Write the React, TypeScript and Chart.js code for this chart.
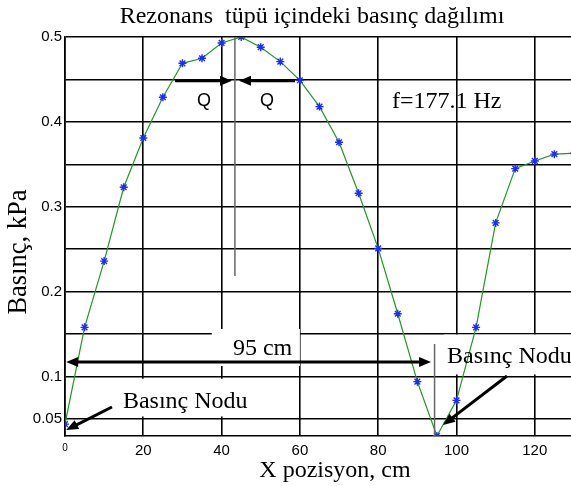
import React, { useEffect, useRef } from "react";
import { Chart, registerables } from "chart.js";

Chart.register(...registerables);

// ---- data ----
const xPositions = [0, 5, 10, 15, 20, 25, 30, 35, 40, 45, 50, 55, 60, 65, 70, 75, 80, 85, 90, 95, 100, 105, 110, 115, 120, 125, 130];
const pressures = [0.044, 0.158, 0.236, 0.323, 0.381, 0.429, 0.469, 0.475, 0.493, 0.5, 0.488, 0.471, 0.449, 0.418, 0.376, 0.316, 0.251, 0.174, 0.094, 0.03, 0.072, 0.158, 0.281, 0.345, 0.354, 0.362, 0.363];
const xTickValues = [0, 20, 40, 60, 80, 100, 120];
const yGridValues = [0.05, 0.1, 0.15, 0.2, 0.25, 0.3, 0.35, 0.4, 0.45, 0.5];
const yLabelledValues = [0.05, 0.1, 0.2, 0.3, 0.4, 0.5];

const titleText = "Rezonans  tüpü içindeki basınç dağılımı";
const xTitle = "X pozisyon, cm";
const yTitle = "Basınç, kPa";
const freqText = "f=177.1 Hz";
const lengthText = "95 cm";
const nodeText = "Basınç Nodu";
const flowText = "Q";

const SERIF = "'Liberation Serif', 'Times New Roman', serif";
const SANS = "'Liberation Sans', Arial, sans-serif";

function drawArrow(ctx: CanvasRenderingContext2D, x1: number, y1: number, x2: number, y2: number, both = false) {
  const head = 12;
  const half = 5;
  const ang = Math.atan2(y2 - y1, x2 - x1);
  const cos = Math.cos(ang), sin = Math.sin(ang);
  ctx.save();
  ctx.strokeStyle = "#000";
  ctx.fillStyle = "#000";
  ctx.lineWidth = 3;
  ctx.beginPath();
  const sx = both ? x1 + cos * (head - 2) : x1;
  const sy = both ? y1 + sin * (head - 2) : y1;
  ctx.moveTo(sx, sy);
  ctx.lineTo(x2 - cos * (head - 2), y2 - sin * (head - 2));
  ctx.stroke();
  const tri = (tx: number, ty: number, c: number, s: number) => {
    ctx.beginPath();
    ctx.moveTo(tx, ty);
    ctx.lineTo(tx - c * head - s * half, ty - s * head + c * half);
    ctx.lineTo(tx - c * head + s * half, ty - s * head - c * half);
    ctx.closePath();
    ctx.fill();
  };
  tri(x2, y2, cos, sin);
  if (both) tri(x1, y1, -cos, -sin);
  ctx.restore();
}

const annotationPlugin = {
  id: "annotations",
  beforeDatasetsDraw(chart: any) {
    const { ctx, scales, chartArea } = chart;
    const X = (v: number) => scales.x.getPixelForValue(v);
    const Y = (v: number) => scales.y.getPixelForValue(v);
    ctx.save();
    ctx.beginPath();
    ctx.rect(chartArea.left + 1, chartArea.top, chartArea.right - chartArea.left, chartArea.bottom - chartArea.top);
    ctx.clip();
    ctx.fillStyle = "#fff";
    // white boxes behind labels
    ctx.fillRect(X(37.5), Y(0.156), X(60.0) - X(37.5), Y(0.1125) - Y(0.156));
    ctx.fillRect(X(96.8), Y(0.1495), X(129.25) - X(96.8), Y(0.1025) - Y(0.1495));
    ctx.fillRect(X(13.5), Y(0.0975), X(48.5) - X(13.5), Y(0.053) - Y(0.0975));
    ctx.restore();
  },
  afterDraw(chart: any) {
    const { ctx, scales } = chart;
    const X = (v: number) => scales.x.getPixelForValue(v);
    const Y = (v: number) => scales.y.getPixelForValue(v);
    ctx.save();
    // gray vertical lines
    ctx.strokeStyle = "#666";
    ctx.lineWidth = 1.5;
    ctx.beginPath();
    ctx.moveTo(X(43.4), Y(0.5));
    ctx.lineTo(X(43.4), Y(0.2185));
    ctx.moveTo(X(94.4), Y(0.1384));
    ctx.lineTo(X(94.4), Y(0.03));
    ctx.stroke();

    // Q arrows
    drawArrow(ctx, X(28.1), Y(0.4485), X(42.65), Y(0.4485));
    drawArrow(ctx, X(58.75), Y(0.4485), X(44.45), Y(0.4485));
    // 95 cm double arrow
    drawArrow(ctx, X(0.3), Y(0.1172), X(93.5), Y(0.1172), true);
    // node arrows
    drawArrow(ctx, X(112.9), Y(0.1007), X(96.55), Y(0.043));
    drawArrow(ctx, X(12.0), Y(0.0642), X(0.3), Y(0.037));

    ctx.fillStyle = "#000";
    ctx.textBaseline = "alphabetic";
    ctx.font = `18px ${SANS}`;
    ctx.textAlign = "center";
    ctx.fillText(flowText, X(35.5), Y(0.4185));
    ctx.fillText(flowText, X(51.6), Y(0.4185));

    ctx.font = `24px ${SERIF}`;
    ctx.textAlign = "left";
    ctx.fillText(freqText, X(83.5), Y(0.4164));
    ctx.fillText(lengthText, X(42.9), Y(0.1254));
    ctx.fillText(nodeText, X(97.6), Y(0.116));
    ctx.fillText(nodeText, X(14.8), Y(0.063));

    // title and axis titles
    ctx.textAlign = "center";
    ctx.fillText(titleText, 312, 23);
    ctx.fillText(xTitle, 335, 477);
    ctx.save();
    ctx.font = `26.5px ${SERIF}`;
    ctx.translate(26, 252);
    ctx.rotate(-Math.PI / 2);
    ctx.fillText(yTitle, 0, 0);
    ctx.restore();
    ctx.restore();
  },
};

export default function App() {
  const canvasRef = useRef<HTMLCanvasElement | null>(null);

  useEffect(() => {
    document.body.style.margin = "0";
    const canvas = canvasRef.current;
    if (!canvas) return;
    const chart = new Chart(canvas, {
      type: "line",
      data: {
        datasets: [
          {
            data: xPositions.map((x, i) => ({ x, y: pressures[i] })),
            borderColor: "#1f9a1f",
            borderWidth: 1.2,
            pointStyle: "star",
            pointRadius: 4,
            pointBorderColor: "#1a2cff",
            pointBackgroundColor: "#1a2cff",
            pointBorderWidth: 1.4,
            tension: 0,
          },
        ],
      },
      options: {
        responsive: false,
        animation: false,
        layout: { autoPadding: false, padding: { top: 37, left: 0, right: 0, bottom: 0 } },
        plugins: { legend: { display: false }, title: { display: false }, tooltip: { enabled: false } },
        scales: {
          x: {
            type: "linear",
            min: 0,
            max: 129.25,
            afterBuildTicks: (s: any) => {
              s.ticks = xTickValues.map((v) => ({ value: v }));
            },
            afterFit: (s: any) => {
              s.height = 50;
              s.paddingLeft = 0;
              s.paddingRight = 0;
            },
            grid: { color: "#000", lineWidth: 1.6, drawTicks: false },
            border: { color: "#000", width: 1.6 },
            ticks: {
              padding: 6,
              color: "#000",
              maxRotation: 0,
              autoSkip: false,
              font: (c: any) => ({ family: SANS, size: c.tick && c.tick.value === 0 ? 10 : 15 }),
              callback: (v: any) => String(v),
            },
          },
          y: {
            type: "linear",
            min: 0.03,
            max: 0.5,
            afterBuildTicks: (s: any) => {
              s.ticks = yGridValues.map((v) => ({ value: v }));
            },
            afterFit: (s: any) => {
              s.width = 65;
              s.paddingTop = 0;
              s.paddingBottom = 0;
            },
            grid: { color: "#000", lineWidth: 1.6, drawTicks: false },
            border: { color: "#000", width: 1.6 },
            ticks: {
              padding: 3,
              color: "#000",
              autoSkip: false,
              font: { family: SANS, size: 15 },
              callback: (v: any) => {
                const r = Math.round(Number(v) * 100) / 100;
                return yLabelledValues.some((l) => Math.abs(l - r) < 1e-6) ? String(r) : "";
              },
            },
          },
        },
      },
      plugins: [annotationPlugin],
    });
    return () => chart.destroy();
  }, []);

  return (
    <div style={{ width: 571, height: 486 }}>
      <canvas ref={canvasRef} width={571} height={486} style={{ display: "block" }} />
    </div>
  );
}
